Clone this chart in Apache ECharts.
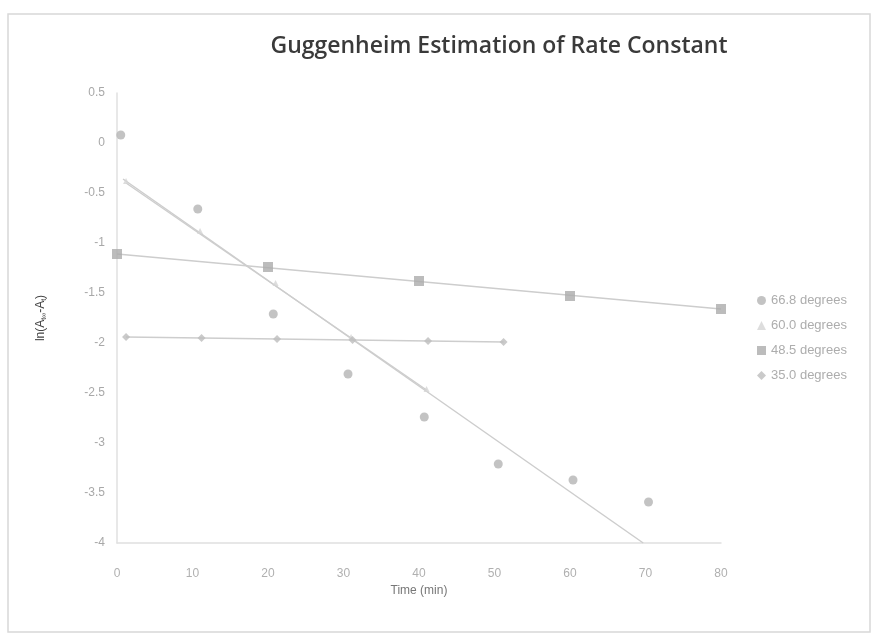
<!DOCTYPE html>
<html>
<head>
<meta charset="utf-8">
<script src="https://cdn.jsdelivr.net/npm/echarts@6/dist/echarts.min.js"></script>
<style>html,body{margin:0;padding:0;background:#fff}#c{width:878px;height:642px}</style>
</head>
<body>
<div id="c"></div>
<script>
// ---- data ----
const seriesNames = ['66.8 degrees', '60.0 degrees', '48.5 degrees', '35.0 degrees'];
const t668 = [0.5, 10.7, 20.7, 30.6, 40.7, 50.5, 60.4, 70.4];
const y668 = [0.08, -0.66, -1.71, -2.31, -2.74, -3.21, -3.37, -3.59];
const t600 = [1.2, 11, 21, 31, 41];
const y600 = [-0.38, -0.88, -1.40, -1.94, -2.46];
const t485 = [0, 20, 40, 60, 80];
const y485 = [-1.11, -1.24, -1.38, -1.53, -1.66];
const t350 = [1.2, 11.2, 21.2, 31.2, 41.2, 51.2];
const y350 = [-1.94, -1.95, -1.96, -1.97, -1.98, -1.99];
// trendline end points
const trend668 = [[0.8, -0.36], [69.7, -4.0]];
const trend600 = [[1.2, -0.40], [41, -2.47]];
const trend485 = [[0, -1.11], [80, -1.66]];
const trend350 = [[1.2, -1.94], [51.2, -1.99]];
const xTicks = [0, 10, 20, 30, 40, 50, 60, 70, 80];
const yTicks = [0.5, 0, -0.5, -1, -1.5, -2, -2.5, -3, -3.5, -4];

const zip = (a, b) => a.map((v, i) => [v, b[i]]);
const chart = echarts.init(document.getElementById('c'));
const lineStyle = { color: '#cdcdcd', width: 1.5 };
const trend = (d) => ({ type: 'line', data: d, symbol: 'none', lineStyle: lineStyle, silent: true, z: 1, clip: true });

chart.setOption({
  animation: false,
  backgroundColor: '#fff',
  title: {
    text: 'Guggenheim Estimation of Rate Constant',
    left: 494, top: 30, textAlign: 'center',
    textStyle: { fontFamily: 'Open Sans', fontWeight: 600, fontSize: 23, color: '#3a3a3a' }
  },
  graphic: [{
    type: 'rect', shape: { x: 8, y: 14, width: 862, height: 618 },
    style: { fill: 'none', stroke: '#d8d8d8', lineWidth: 1.5 }, silent: true, z: -10
  }],
  legend: {
    orient: 'vertical', left: 757, top: 294, itemGap: 12, itemWidth: 9, itemHeight: 9,
    data: seriesNames,
    textStyle: { fontFamily: 'Liberation Sans', fontSize: 13, color: '#adadad' },
    padding: 0
  },
  grid: { left: 117, right: 157, top: 93, bottom: 99 },
  xAxis: {
    type: 'value', min: 0, max: 80, interval: 10,
    name: 'Time (min)', nameLocation: 'middle', nameGap: 42,
    nameTextStyle: { fontFamily: 'Liberation Sans', fontSize: 12, color: '#777' },
    axisLine: { onZero: false, lineStyle: { color: '#e0e0e0', width: 1.5 } },
    axisTick: { show: false }, splitLine: { show: false },
    axisLabel: { fontFamily: 'Liberation Sans', fontSize: 12, color: '#b0b0b0', margin: 25,
      formatter: v => xTicks.includes(v) ? String(v) : '' }
  },
  yAxis: {
    type: 'value', min: -4, max: 0.5, interval: 0.5,
    name: '{n|ln(A}{s|t∞}{n|-A}{s|t}{n|)}', nameLocation: 'middle', nameGap: 70, nameRotate: 90,
    nameTextStyle: { rich: {
      n: { fontFamily: 'Liberation Sans', fontSize: 12, color: '#444' },
      s: { fontFamily: 'Liberation Sans', fontSize: 7, color: '#444', padding: [0, 0, -6, 0] }
    } },
    axisLine: { show: true, onZero: false, lineStyle: { color: '#e0e0e0', width: 1.5 } },
    axisTick: { show: false }, splitLine: { show: false },
    axisLabel: { fontFamily: 'Liberation Sans', fontSize: 12, color: '#a8a8a8', margin: 12,
      formatter: v => yTicks.includes(v) ? String(v) : '' }
  },
  series: [
    { name: seriesNames[0], type: 'scatter', data: zip(t668, y668), symbol: 'circle', symbolSize: 9,
      itemStyle: { color: '#b4b4b4' }, z: 3 },
    { name: seriesNames[1], type: 'scatter', data: zip(t600, y600), symbol: 'triangle', symbolSize: 6,
      itemStyle: { color: '#d4d4d4' }, z: 3 },
    { name: seriesNames[2], type: 'scatter', data: zip(t485, y485), symbol: 'rect', symbolSize: 10,
      itemStyle: { color: '#ababab' }, z: 3 },
    { name: seriesNames[3], type: 'scatter', data: zip(t350, y350), symbol: 'diamond', symbolSize: 8,
      itemStyle: { color: '#bdbdbd' }, z: 3 },
    trend(trend668), trend(trend600), trend(trend485), trend(trend350)
  ]
});
</script>
</body>
</html>
